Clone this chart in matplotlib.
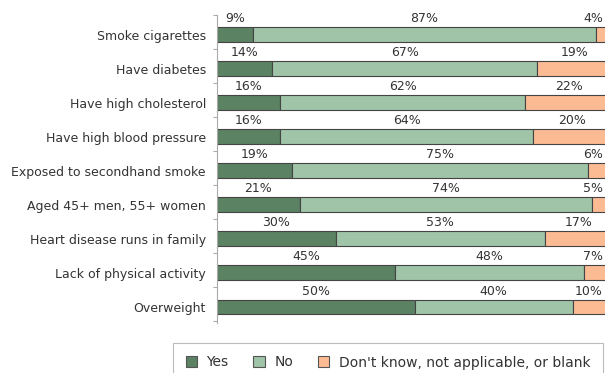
import numpy as np
import matplotlib.pyplot as plt
from matplotlib.patches import Patch

categories = [
    "Smoke cigarettes",
    "Have diabetes",
    "Have high cholesterol",
    "Have high blood pressure",
    "Exposed to secondhand smoke",
    "Aged 45+ men, 55+ women",
    "Heart disease runs in family",
    "Lack of physical activity",
    "Overweight",
]
yes = [9, 14, 16, 16, 19, 21, 30, 45, 50]
no = [87, 67, 62, 64, 75, 74, 53, 48, 40]
unknown = [4, 19, 22, 20, 6, 5, 17, 7, 10]

series_names = ["Yes", "No", "Don't know, not applicable, or blank"]
colors = ["#5b8262", "#9fc4a7", "#fdbb93"]
text_color = "#333333"

plt.rcParams["font.family"] = "DejaVu Sans"

fig = plt.figure(figsize=(6.05, 3.73), dpi=100)
ax = fig.add_axes([217 / 605, 1 - 323 / 373, (612 - 217) / 605, (323 - 15) / 373])

# right-most value labels get pulled in so they stay on the canvas
x_max = 100 * (603 - 217) / (612 - 217)

y = np.arange(len(categories))
left = np.zeros(len(categories))
for vals, col in zip([yes, no, unknown], colors):
    vals = np.array(vals, dtype=float)
    ax.barh(y, vals, left=left, height=0.44, color=col,
            edgecolor="#444444", linewidth=0.8)
    for yi, l, v in zip(y, left, vals):
        label = f"{int(v)}%"
        xc = l + v / 2
        ha = "center"
        if xc + 1.8 * len(label) > x_max:
            xc, ha = x_max, "right"
        ax.text(xc, yi - 0.47, label, ha=ha, va="center",
                fontsize=9, color=text_color, clip_on=False)
    left += vals

ax.set_xlim(0, 100)
ax.set_ylim(8.47, -0.58)
ax.set_yticks(y)
ax.set_yticklabels(categories, fontsize=9, color=text_color)
ax.tick_params(axis="y", which="major", length=0, pad=8)
ax.set_yticks(np.arange(-0.58, 8.5, 1.0), minor=True)
ax.tick_params(axis="y", which="minor", length=3, color="#aaaaaa", width=0.8)
ax.set_xticks([])
for side in ["top", "right", "bottom"]:
    ax.spines[side].set_visible(False)
ax.spines["left"].set_color("#aaaaaa")
ax.spines["left"].set_linewidth(0.8)

handles = [Patch(facecolor=c, edgecolor="#555555", linewidth=0.8) for c in colors]
leg = fig.legend(handles, series_names, loc="upper left",
                 bbox_to_anchor=(173 / 605, 1 - 343 / 373), ncol=3,
                 fontsize=10, frameon=True, fancybox=False, borderaxespad=0,
                 edgecolor="#aaaaaa", handlelength=0.8, handleheight=0.8,
                 handletextpad=0.7, columnspacing=1.8, borderpad=0.9)
for t in leg.get_texts():
    t.set_color(text_color)
leg.get_frame().set_linewidth(0.8)

fig.savefig("out.png", dpi=100)
